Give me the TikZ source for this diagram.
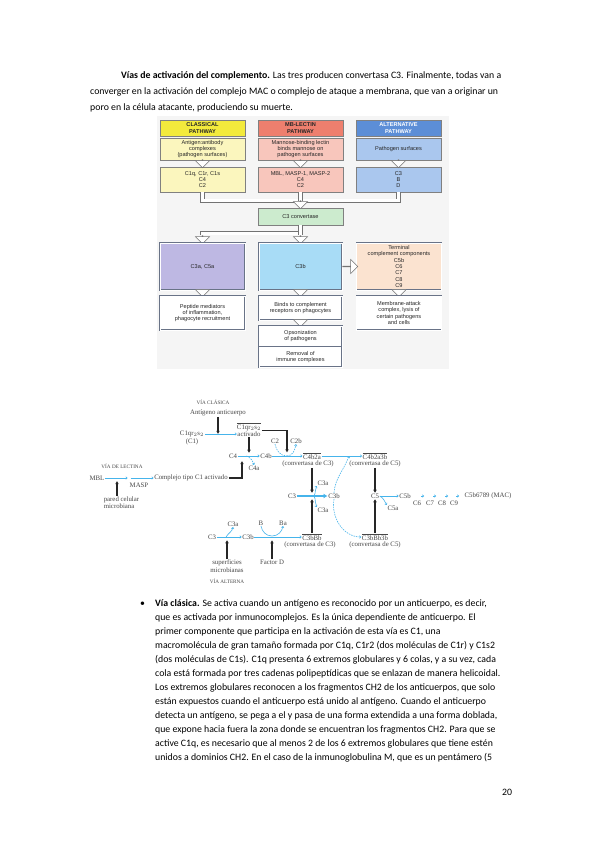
\documentclass[tikz,border=0pt]{standalone}
\usepackage{fontspec}
\setmainfont{Carlito}
\newfontfamily\arialf{Liberation Sans}
\newfontfamily\timesf{Liberation Serif}
\usetikzlibrary{arrows.meta,shapes.arrows,calc}
\definecolor{cy}{RGB}{70,180,235}
\definecolor{yA}{RGB}{243,234,60}
\definecolor{rB}{RGB}{238,127,110}
\definecolor{bC}{RGB}{92,142,215}
\definecolor{yAl}{RGB}{251,246,190}
\definecolor{rBl}{RGB}{248,198,188}
\definecolor{bCl}{RGB}{170,199,238}
\definecolor{gC}{RGB}{204,235,206}
\definecolor{pA}{RGB}{190,184,227}
\definecolor{cB}{RGB}{168,220,246}
\definecolor{oC}{RGB}{251,227,208}
\definecolor{bord}{RGB}{105,115,135}
\newcommand\ovl[1]{$\overline{\hbox{#1}}$}
\begin{document}
\begin{tikzpicture}[x=1pt,y=-1pt,
  page/.style={anchor=base west, inner sep=0pt, font=\fontsize{9.8}{12}\selectfont},
  tb/.style={draw=black!50, line width=0.4pt, minimum width=85pt, inner sep=0.3pt, align=center, font=\arialf\fontsize{5.6}{6.3}\selectfont, text=black!85},
  hd/.style={tb, font=\arialf\bfseries\fontsize{5.6}{6.3}\selectfont},
  db/.style={tb, fill=white, draw=bord, double=white, double distance=0.9pt, line width=0.5pt},
  harr/.style={single arrow, draw=black!55, fill=white, line width=0.45pt, inner sep=0pt, minimum width=14pt, single arrow head extend=3.5pt, minimum height=8pt, shape border rotate=270},
  pipe/.style={draw=black!55, line width=0.6pt, double=white, double distance=3pt},
  ct/.style={font=\timesf\fontsize{6.8}{7.4}\selectfont, text=black!72, inner sep=0.6pt},
  cts/.style={ct, font=\timesf\fontsize{5.2}{6}\selectfont},
  blk/.style={draw=black!85, line width=1.1pt, -{Latex[length=3.2pt,width=3.8pt]}},
  tipc/.style={-{To[length=2pt,width=3pt]}},
  cyl/.style={draw=cy, line width=0.6pt},
  cya/.style={cyl, tipc},
  cyd/.style={cyl, dash pattern=on 1.5pt off 1pt},
  cyb/.style={draw=cy, line width=1.8pt, -{Latex[length=4pt,width=5pt]}}
]
\useasboundingbox[fill=white] (0,0) rectangle (599,848);

% ---------- header paragraph ----------
\node[page] (h1) at (121,79) {\textbf{Vías de activación del complemento.} Las tres producen convertasa C3. Finalmente, todas van a};
\node[page] (h2) at (90,95) {converger en la activación del complejo MAC o complejo de ataque a membrana, que van a originar un};
\node[page] (h3) at (90,111) {poro en la célula atacante, produciendo su muerte.};

% ---------- top figure ----------
\fill[black!4] (157,116) rectangle (449,369);
\node[hd, fill=yA, minimum height=16pt] (tA1) at (202.5,128) {CLASSICAL\\PATHWAY};
\node[hd, fill=rB, minimum height=16pt] (tB1) at (300.5,128) {MB-LECTIN\\PATHWAY};
\node[hd, fill=bC, minimum height=16pt, text=white] (tC1) at (398.5,128) {ALTERNATIVE\\PATHWAY};
\node[tb, fill=yAl, minimum height=22pt] (tA2) at (202.5,149) {Antigen:antibody\\complexes\\(pathogen surfaces)};
\node[tb, fill=rBl, minimum height=22pt] (tB2) at (300.5,149) {Mannose-binding lectin\\binds mannose on\\pathogen surfaces};
\node[tb, fill=bCl, minimum height=22pt] (tC2) at (398.5,149) {Pathogen surfaces};
\node[tb, fill=yAl, minimum height=25pt] (tA3) at (202.5,179.5) {C1q, C1r, C1s\\C4\\C2};
\node[tb, fill=rBl, minimum height=25pt] (tB3) at (300.5,179.5) {MBL, MASP-1, MASP-2\\C4\\C2};
\node[tb, fill=bCl, minimum height=25pt] (tC3) at (398.5,179.5) {C3\\B\\D};
\node[harr] (ha1) at (202.5,163.5) {};
\node[harr] (hb1) at (300.5,163.5) {};
\node[harr] (hc1) at (398.5,163.5) {};
\draw[pipe] (tA3.south) -- ++(0,8.5) -| (tC3.south);
\draw[pipe] (tB3.south) -- ++(0,8.5);
\node[harr] (hcv) at (300.5,204.5) {};
\node[tb, fill=gC, minimum height=17pt] (conv) at (300.5,216.5) {C3 convertase};
\node[harr] (ha4) at (202.5,239.5) {};
\node[harr] (hb4) at (300.5,239.5) {};
\draw[pipe] (conv.south) -- ++(0,8) -| (ha4.tail);
\draw[pipe] (conv.south) -- (hb4.tail);
\node[db, fill=pA, minimum height=47pt] (tA4) at (202.5,266.5) {C3a, C5a};
\node[db, fill=cB, minimum height=47pt, minimum width=83pt] (tB4) at (300.5,266.5) {C3b};
\node[db, fill=oC, minimum height=47pt] (tC4) at (399,266.5) {Terminal\\complement components\\C5b\\C6\\C7\\C8\\C9};
\node[harr, shape border rotate=0, minimum height=15pt] (hr) at (350,266.5) {};
\node[harr, minimum height=7pt] (ha5) at (202.5,293) {};
\node[harr, minimum height=7pt] (hb5) at (300.5,293) {};
\node[harr, minimum height=7pt] (hc5) at (399,293) {};
\node[db, minimum height=34pt] (tA5) at (202.5,313) {Peptide mediators\\of inflammation,\\phagocyte recruitment};
\node[db, minimum height=24pt, minimum width=83pt] (tB5) at (300.5,308) {Binds to complement\\receptors on phagocytes};
\node[db, minimum height=34pt] (tC5) at (399,313) {Membrane-attack\\complex, lysis of\\certain pathogens\\and cells};
\node[harr, minimum height=7pt] (hb6) at (300.5,323) {};
\node[db, minimum height=41pt, minimum width=83pt] (tB6) at (300.5,346.5) {};
\draw[draw=bord, line width=0.6pt] (tB6.west) -- (tB6.east);
\node[tb, draw=none] (op1) at (300.5,336) {Opsonization\\of pathogens};
\node[tb, draw=none] (op2) at (300.5,357) {Removal of\\immune complexes};

% ---------- cascade figure ----------
\node[cts] (vc) at (213,402) {VÍA CLÁSICA};
\node[ct] (ag) at (218,413) {Antígeno anticuerpo};
\node[ct] (c1) at (192,434) {C1qr$_2$s$_2$};
\node[ct] (c1p) at (192,442) {(C1)};
\node[ct] (c1a) at (249,426.5) {\ovl{C1qr$_2$s$_2$}};
\node[ct] (c1act) at (249,434) {activado};
\coordinate (ja) at ($(c1.east)!0.5!(c1act.west)$);
\draw[cya] (c1.east) -- (c1act.west);
\draw[blk] (ag.south) -- (ag.south |- ja);
\node[ct] (c4) at (233,456) {C4};
\node[ct] (c4b) at (266,456) {C4b};
\node[ct] (c4a) at (254,468) {C4a};
\draw[cya] (c4.east) -- (c4b.west);
\draw[cyd,tipc] ($(c4.east)!0.4!(c4b.west)$) to[out=-20,in=110] (c4a.north);
\draw[blk] (c1act.south) -- (c1act.south |- c4.north);
\node[ct] (c2) at (275,441) {C2};
\node[ct] (c2b) at (296,441) {C2b};
\node[ct] (c42) at (312,456) {\ovl{C4b2a}};
\node[ct] (c42l) at (308,464) {(convertasa de C3)};
\draw[cya] (c4b.east) -- (c42.west);
\coordinate (j2) at (287,456);
\draw[blk] (c1a.east |- c1act.north) -| ([yshift=3.5pt]j2);
\draw[cyd] (c2.south) to[out=-80,in=180] (j2);
\draw[cyd,tipc] (j2) to[out=0,in=-100] (c2b.south);
\node[ct] (c423) at (375,456) {\ovl{C4b2a3b}};
\node[ct] (c423l) at (375,464) {(convertasa de C5)};
\draw[cya] (c42.east) -- (c423.west);
\coordinate (j3) at (349,456);

\node[cts] (vl) at (122,466) {VÍA DE LECTINA};
\node[ct] (mbl) at (97,478) {MBL};
\coordinate (m1) at (129,478);
\node[ct] (cplx) at (191,478) {Complejo tipo C1 activado};
\node[ct] (masp) at (139,485) {MASP};
\draw[cya] (mbl.east) -- ([xshift=-1.5pt]m1);
\draw[cya] ([xshift=1.5pt]m1) -- (cplx.west);
\coordinate (j1) at (242,461);
\draw[blk] (cplx.east) -| (j1);
\node[ct, align=left, anchor=north west] (pcm) at (103,496) {pared celular\\microbiana};
\coordinate (j0) at (117,481);
\draw[blk] (pcm.north -| j0) -- (j0);

\node[ct] (c3m) at (292,496) {C3};
\node[ct] (c3bm) at (334,496) {C3b};
\node[ct] (c3a1) at (323,483) {C3a};
\node[ct] (c3a2) at (323,510) {C3a};
\draw[cyb] (c3m.east) -- (c3bm.west);
\coordinate (j4) at (314,496);
\draw[cya] (j4) to[out=60,in=-120] (c3a1.south west);
\draw[cya] (j4) to[out=-60,in=120] (c3a2.north west);
\draw[blk] (c42l.south -| c42) -- (c42 |- c3m.north);
\draw[cyd,tipc] (c3bm.north) to[out=85,in=-110] (j3);
\node[ct] (c3bb) at (312,537) {\ovl{C3bBb}};
\node[ct] (c3bbl) at (310,545) {(convertasa de C3)};
\draw[blk] (c3bb.north) -- (c3bb.north |- c3m.south);
\node[ct] (c5) at (375,496) {C5};
\node[ct] (c5b) at (405,496) {C5b};
\node[ct] (c5a) at (393,508) {C5a};
\draw[blk] (c423l.south) -- (c5.north);
\node[ct] (c3bb3) at (375,537) {\ovl{C3bBb3b}};
\node[ct] (c3bb3l) at (375,545) {(convertasa de C5)};
\draw[blk] (c3bb3.north) -- (c5.south);
\draw[cyd,tipc] (c3bm.south) to[out=-100,in=180] (c3bb3.west);
\draw[cya] (c5.east) -- (c5b.west);
\draw[cya] (c5.east) to[out=-30,in=120] (c5a.north west);
\coordinate (k1) at (424,496);
\coordinate (k2) at (436,496);
\coordinate (k3) at (448,496);
\coordinate (k4) at (459,496);
\node[ct] (c6) at (417,503) {C6};
\node[ct] (c7) at (430,503) {C7};
\node[ct] (c8) at (442,503) {C8};
\node[ct] (c9) at (454,503) {C9};
\node[ct] (mac) at (488,496) {C5b6789 (MAC)};
\foreach \k in {k1,k2,k3,k4} \draw[cya] ([xshift=-3pt]\k) -- (\k);

\node[ct] (c3alt) at (212,537) {C3};
\node[ct] (c3balt) at (248,537) {C3b};
\node[ct] (c3aalt) at (233,524) {C3a};
\draw[cya] (c3alt.east) -- (c3balt.west);
\coordinate (j5) at (226,537);
\draw[cya] (j5) to[out=60,in=-100] (c3aalt.south);
\node[ct, align=center] (sup) at (227,566) {superficies\\microbianas};
\node[cts] (va) at (227,581) {VÍA ALTERNA};
\draw[blk] (sup.north) -- (sup.north |- c3alt.south);
\draw[cya] (c3balt.east) -- (c3bb.west);
\node[ct] (nB) at (261,523) {B};
\node[ct] (nBa) at (283,523) {Ba};
\coordinate (jb) at (272,536);
\draw[cya] (nB.south) to[out=-80,in=180] (jb) to[out=0,in=-100] (nBa.south);
\node[ct] (fd) at (272,562) {Factor D};
\draw[blk] (fd.north) -- (fd.north |- c3balt.south);

% ---------- bullet paragraph ----------
\node[page] (bul) at (140,606) {•};
\foreach \txt [count=\i from 0] in {
 {\textbf{Vía clásica.} Se activa cuando un antígeno es reconocido por un anticuerpo, es decir,},
 {que es activada por inmunocomplejos. Es la única dependiente de anticuerpo. El},
 {primer componente que participa en la activación de esta vía es C1, una},
 {macromolécula de gran tamaño formada por C1q, C1r2 (dos moléculas de C1r) y C1s2},
 {(dos moléculas de C1s). C1q presenta 6 extremos globulares y 6 colas, y a su vez, cada},
 {cola está formada por tres cadenas polipeptídicas que se enlazan de manera helicoidal.},
 {Los extremos globulares reconocen a los fragmentos CH2 de los anticuerpos, que solo},
 {están expuestos cuando el anticuerpo está unido al antígeno. Cuando el anticuerpo},
 {detecta un antígeno, se pega a el y pasa de una forma extendida a una forma doblada,},
 {que expone hacia fuera la zona donde se encuentran los fragmentos CH2. Para que se},
 {active C1q, es necesario que al menos 2 de los 6 extremos globulares que tiene estén},
 {unidos a dominios CH2. En el caso de la inmunoglobulina M, que es un pentámero (5}}
 \node[page] (p\i) at (155,606+14*\i) {\txt};
\node[page] (pg) at (502,795) {20};
\end{tikzpicture}
\end{document}
